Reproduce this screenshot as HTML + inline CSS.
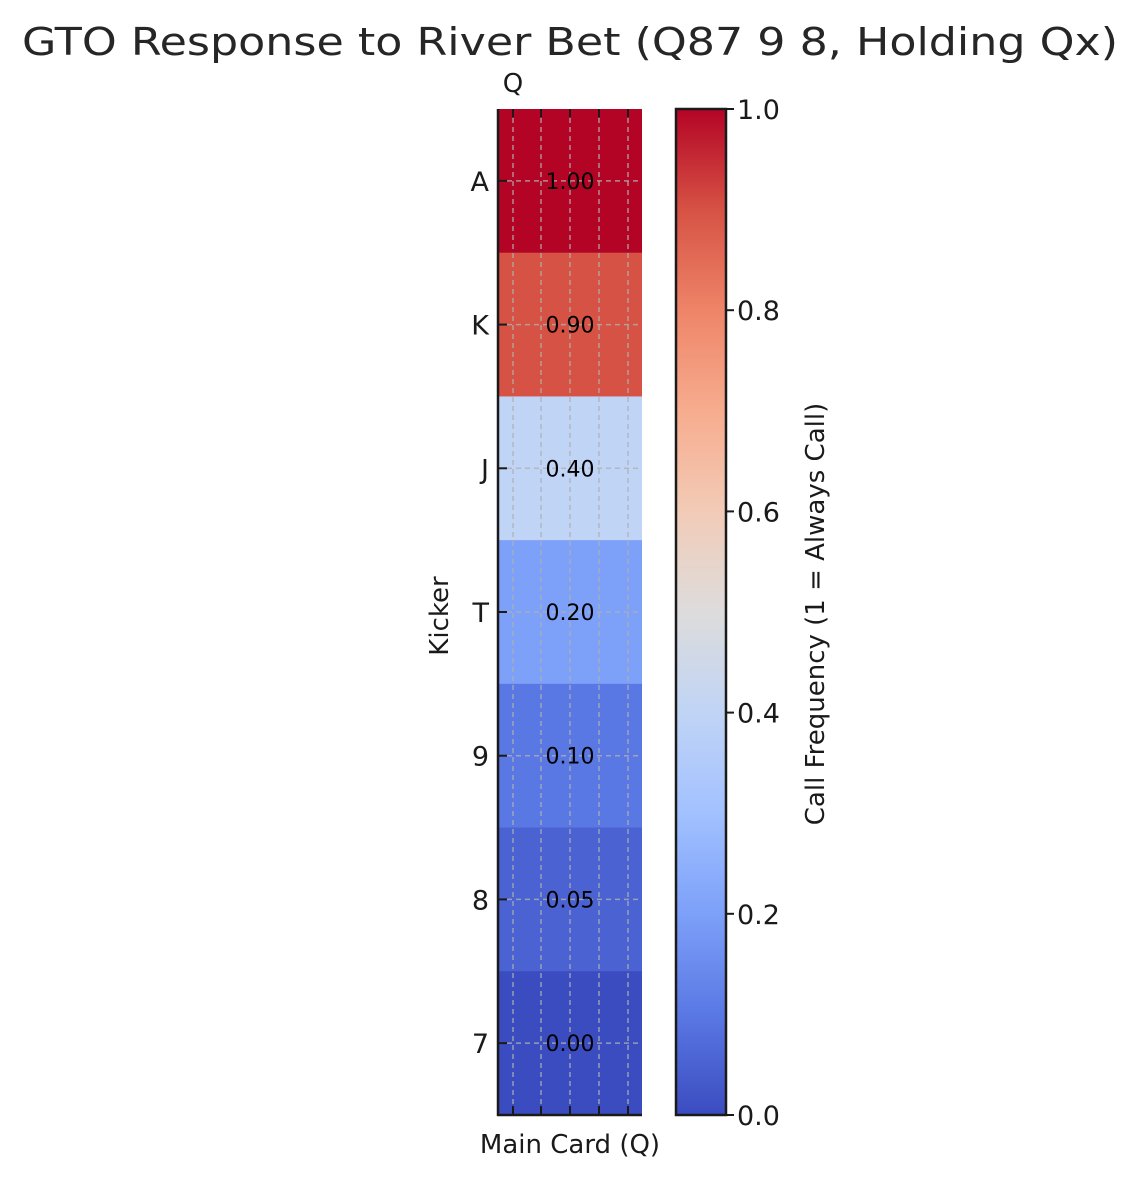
<!DOCTYPE html>
<html><head><meta charset="utf-8"><style>body{margin:0;background:#fff}svg{display:block;font-family:"DejaVu Sans","Liberation Sans",sans-serif}</style></head>
<body>
<svg id="c" width="1140" height="1179">
<defs>
<linearGradient id="cw" x1="0" y1="1" x2="0" y2="0">
<stop offset="0" stop-color="#3b4cc0"/><stop offset="0.1" stop-color="#5a78e4"/><stop offset="0.2" stop-color="#7da0f9"/><stop offset="0.3" stop-color="#a2c1ff"/><stop offset="0.4" stop-color="#c0d4f5"/><stop offset="0.5" stop-color="#dddcdc"/><stop offset="0.6" stop-color="#f2cbb7"/><stop offset="0.7" stop-color="#f7ac8e"/><stop offset="0.8" stop-color="#ee8468"/><stop offset="0.9" stop-color="#d65244"/><stop offset="1" stop-color="#b40426"/>
</linearGradient>
</defs>
<text x="570" y="55" font-size="38" text-anchor="middle" textLength="1096" lengthAdjust="spacingAndGlyphs" fill="#262626">GTO Response to River Bet (Q87 9 8, Holding Qx)</text>
<g id="hm"></g>
<text x="513" y="92" font-size="26" text-anchor="middle" fill="#1a1a1a">Q</text>
<text x="570" y="1153" font-size="26" text-anchor="middle" fill="#1a1a1a">Main Card (Q)</text>
<text transform="translate(448,616) rotate(-90)" font-size="26" text-anchor="middle" fill="#1a1a1a">Kicker</text>
<rect x="676" y="109" width="50" height="1006" fill="url(#cw)" stroke="#1a1a1a" stroke-width="2.5"/>
<g id="cb"></g>
<text transform="translate(824,614) rotate(-90)" font-size="26" text-anchor="middle" fill="#1a1a1a">Call Frequency (1 = Always Call)</text>
</svg>
<script>
const kickers = ["A","K","J","T","9","8","7"];
const callFreq = [1.00,0.90,0.40,0.20,0.10,0.05,0.00];
const cbTicks = [0.0,0.2,0.4,0.6,0.8,1.0];
const NS="http://www.w3.org/2000/svg";
const X0=498,X1=642,Y0=109,Y1=1115;
const rowH=(Y1-Y0)/kickers.length;
const yPos=i=>Y0+rowH*i;
const cbY=v=>Y1-(Y1-Y0)*v;
const stops=[[0,[59,76,192]],[0.1,[90,120,228]],[0.2,[125,160,249]],[0.3,[162,193,255]],[0.4,[192,212,245]],[0.5,[221,220,220]],[0.6,[242,203,183]],[0.7,[247,172,142]],[0.8,[238,132,104]],[0.9,[214,82,68]],[1,[180,4,38]]];
function cw(v){for(let i=1;i<stops.length;i++){if(v<=stops[i][0]){const a=stops[i-1],b=stops[i],t=(v-a[0])/(b[0]-a[0]);return "rgb("+a[1].map((c,k)=>Math.round(c+(b[1][k]-c)*t)).join(",")+")";}}return "rgb(180,4,38)";}
function mk(tag,attrs,parent){const e=document.createElementNS(NS,tag);for(const k in attrs)e.setAttribute(k,attrs[k]);parent.appendChild(e);return e;}
const hm=document.getElementById("hm");
callFreq.forEach((v,i)=>{
 const r=mk("rect",{x:X0,y:yPos(i),width:X1-X0,height:rowH+0.5,fill:cw(v)},hm);
 
 
});
const gx=[513,541,570,599,628];
gx.forEach(x=>{
 const l=mk("line",{x1:x,x2:x,y1:Y0,y2:Y1,stroke:"#b0b0b0","stroke-width":1.5,"stroke-dasharray":"5,4",opacity:0.8},hm);
 
 
 mk("line",{x1:x,x2:x,y1:Y0,y2:Y0+8,stroke:"#1a1a1a","stroke-width":2},hm);
 mk("line",{x1:x,x2:x,y1:Y1,y2:Y1-9,stroke:"#1a1a1a","stroke-width":2},hm);
});
kickers.forEach((k,i)=>{
 const cy=yPos(i)+rowH/2;
 const l=mk("line",{x1:X0,x2:X1,y1:cy,y2:cy,stroke:"#b0b0b0","stroke-width":1.5,"stroke-dasharray":"5,4",opacity:0.8},hm);
 
 
 mk("line",{x1:X0,x2:X0+9,y1:cy,y2:cy,stroke:"#1a1a1a","stroke-width":2},hm);
 const t=mk("text",{x:489,y:cy+10,"font-size":27,"text-anchor":"end",fill:"#1a1a1a"},hm);
 t.textContent=k;
 
 
 const a=mk("text",{x:570,y:cy+8,"font-size":22,"text-anchor":"middle",fill:"#000"},hm);
 a.textContent=callFreq[i].toFixed(2);
 
 
});
mk("line",{x1:X0,x2:X0,y1:Y0,y2:Y1+1,stroke:"#1a1a1a","stroke-width":2.5},hm);
mk("line",{x1:X0-1,x2:X1,y1:Y1,y2:Y1,stroke:"#1a1a1a","stroke-width":2.5},hm);
const cb=document.getElementById("cb");
cbTicks.forEach(v=>{
 const y=cbY(v);
 mk("line",{x1:726,x2:734,y1:y,y2:y,stroke:"#1a1a1a","stroke-width":2},cb);
 const t=mk("text",{x:737,y:y+10,"font-size":27,fill:"#1a1a1a"},cb);
 t.textContent=v.toFixed(1);
 
 
});
</script>
</body></html>
